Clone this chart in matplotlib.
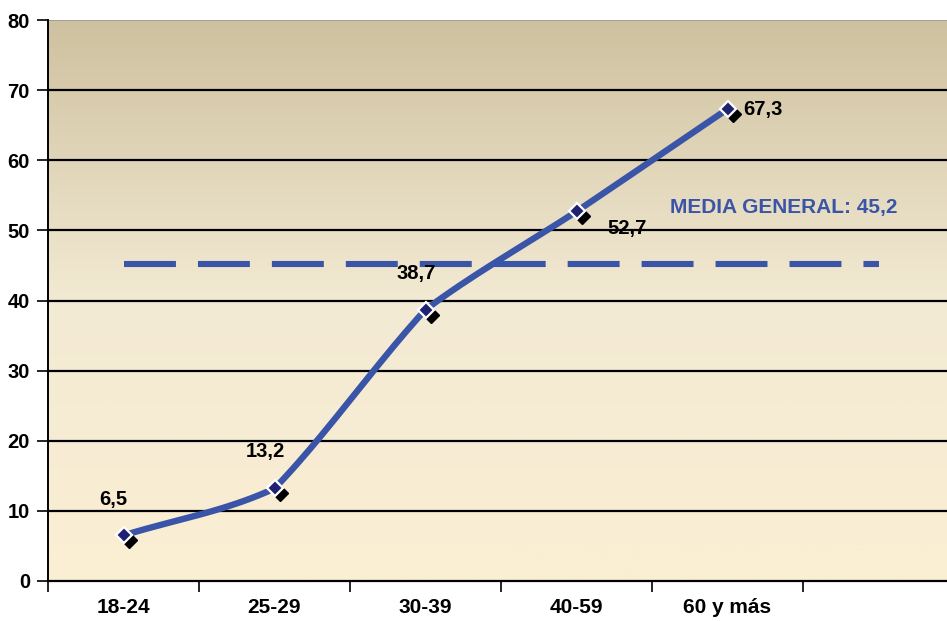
import numpy as np
import matplotlib
matplotlib.use("Agg")
import matplotlib.pyplot as plt
from matplotlib.colors import LinearSegmentedColormap
import matplotlib.transforms as mtransforms

categories = ["18-24", "25-29", "30-39", "40-59", "60 y más"]
values = [6.5, 13.2, 38.7, 52.7, 67.3]
labels = ["6,5", "13,2", "38,7", "52,7", "67,3"]
mean_value = 45.2
mean_label = "MEDIA GENERAL: 45,2"
yticks = [0, 10, 20, 30, 40, 50, 60, 70, 80]

plt.rcParams['font.family'] = ['Liberation Sans', 'DejaVu Sans']

fig = plt.figure(figsize=(9.47, 6.21), dpi=100)
fig.patch.set_facecolor('white')
ax = fig.add_axes([48/947, 40/621, 906/947, 561/621])

# gradient background
cmap = LinearSegmentedColormap.from_list('bg', ['#FBEFD3', '#F3EAD3', '#CEC19F'])
grad = np.linspace(0, 1, 256).reshape(-1, 1)
ax.imshow(grad, aspect='auto', cmap=cmap, origin='lower',
          extent=[-0.5, 5.5, 0, 80], zorder=0)

ax.set_xlim(-0.5, 5.5)
ax.set_ylim(0, 80)

for yv in yticks[1:-1]:
    ax.axhline(yv, color='black', lw=1.6, zorder=1)
ax.axhline(80, color='#999999', lw=1.2, zorder=1)

# lightly smoothed line (Hermite spline through the data points)
x = np.arange(len(values), dtype=float)
y = np.array(values, dtype=float)
k = 0.35  # tangent scale (small = nearly straight)
m = np.zeros_like(y)
m[1:-1] = (y[2:] - y[:-2]) / 2
m[0] = y[1] - y[0]
m[-1] = y[-1] - y[-2]
cx, cy = [], []
for i in range(len(x) - 1):
    t = np.linspace(0, 1, 40)
    h00 = 2*t**3 - 3*t**2 + 1
    h10 = t**3 - 2*t**2 + t
    h01 = -2*t**3 + 3*t**2
    h11 = t**3 - t**2
    seg = y[i+1] - y[i]
    cx.extend(x[i] + t)
    cy.extend(h00*y[i] + h10*(k*m[i] + (1-k)*seg) + h01*y[i+1] + h11*(k*m[i+1] + (1-k)*seg))

ax.plot(cx, cy, color='#3A55A8', lw=4.6, solid_capstyle='round', zorder=3)

# mean dashed line
ax.plot([0, 5], [mean_value, mean_value], color='#3A55A8', lw=4.4,
        dashes=(8.5, 3.6), zorder=2)

# shadow markers
shadow = ax.transData + mtransforms.ScaledTranslation(5/100, -5/100, fig.dpi_scale_trans)
ax.plot(x, y, linestyle='none', marker='D', markersize=8, color='black',
        transform=shadow, zorder=4)
ax.plot(x, y, linestyle='none', marker='D', markersize=8.5, markerfacecolor='#1F2270',
        markeredgecolor='white', markeredgewidth=1.6, zorder=5)

# data labels (offsets in pixels)
offsets = [(-10, 36, 'center'), (-9, 37, 'center'), (-9, 36, 'center'),
           (51, -17, 'center'), (16, 0, 'left')]
for xi, yi, lab, (dx, dy, ha) in zip(x, y, labels, offsets):
    ax.annotate(lab, (xi, yi), xytext=(dx*0.72, dy*0.72), textcoords='offset points',
                ha=ha, va='center', fontsize=14.5, fontweight='bold', color='black', zorder=6)

ax.text(4.37, 53.3, mean_label, ha='center', va='center', fontsize=15,
        fontweight='bold', color='#3A55A8', zorder=6)

# axes styling
ax.set_yticks(yticks)
ax.set_yticklabels([str(v) for v in yticks], fontsize=14.5, fontweight='bold')
ax.set_xticks(np.arange(-0.5, 5.6, 1.0))
ax.set_xticklabels([])
ax.set_xticks(np.arange(len(categories)), minor=True)
ax.set_xticklabels(categories, minor=True, fontsize=15, fontweight='bold')
ax.tick_params(axis='x', which='minor', length=0, pad=12)
ax.tick_params(axis='x', which='major', length=8, width=1.2, color='black')
ax.tick_params(axis='y', length=8, width=1.2, color='black', pad=5)

for s in ['top', 'right']:
    ax.spines[s].set_visible(False)
ax.spines['left'].set_linewidth(1.4)
ax.spines['bottom'].set_linewidth(1.6)

fig.savefig('out.png', dpi=100)
